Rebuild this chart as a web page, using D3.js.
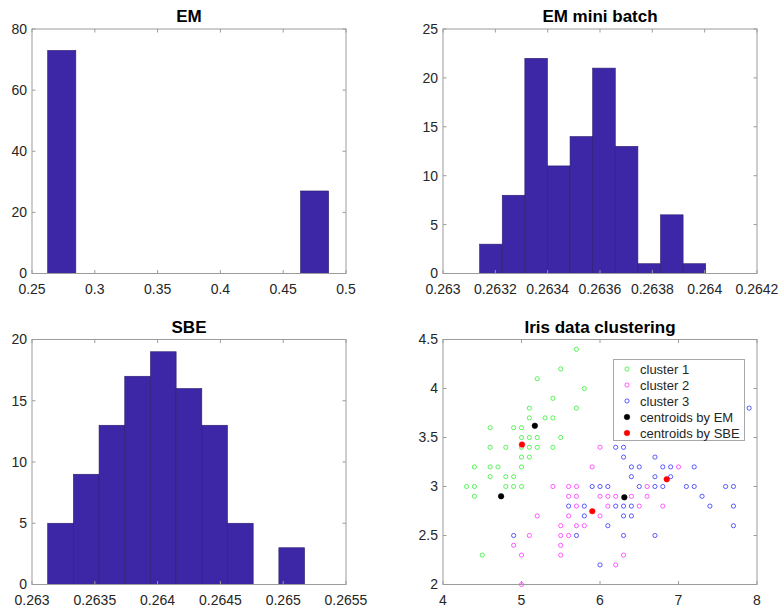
<!DOCTYPE html>
<html>
<head>
<meta charset="utf-8">
<script src="https://cdn.jsdelivr.net/npm/d3@7"></script>
<style>
  body { margin: 0; background: #fff; }
  svg { display: block; font-family: Helvetica, "Liberation Sans", Arial, sans-serif; }
</style>
</head>
<body>
<svg id="fig" width="779" height="612"></svg>
<script>
// histogram data (bin edges + counts)
const emEdges = [0.2625, 0.2849, 0.3072, 0.3296, 0.3520, 0.3744, 0.3967, 0.4191, 0.4415, 0.4638, 0.4862];
const emCounts = [73, 0, 0, 0, 0, 0, 0, 0, 0, 27];
const emXTicks = [0.25, 0.3, 0.35, 0.4, 0.45, 0.5];
const emXLabels = ["0.25", "0.3", "0.35", "0.4", "0.45", "0.5"];
const emYTicks = [0, 20, 40, 60, 80];

const miniEdges = [0.2631400, 0.2632264, 0.2633128, 0.2633992, 0.2634856, 0.2635720,
                   0.2636584, 0.2637448, 0.2638312, 0.2639176, 0.2640040];
const miniCounts = [3, 8, 22, 11, 14, 21, 13, 1, 6, 1];
const miniXTicks = [0.263, 0.2632, 0.2634, 0.2636, 0.2638, 0.264, 0.2642];
const miniXLabels = ["0.263", "0.2632", "0.2634", "0.2636", "0.2638", "0.264", "0.2642"];
const miniYTicks = [0, 5, 10, 15, 20, 25];

const sbeEdges = [0.263125, 0.2633295, 0.263534, 0.2637385, 0.263943, 0.2641475,
                  0.264352, 0.2645565, 0.264761, 0.2649655, 0.26517];
const sbeCounts = [5, 9, 13, 17, 19, 16, 13, 5, 0, 3];
const sbeXTicks = [0.263, 0.2635, 0.264, 0.2645, 0.265, 0.2655];
const sbeXLabels = ["0.263", "0.2635", "0.264", "0.2645", "0.265", "0.2655"];
const sbeYTicks = [0, 5, 10, 15, 20];

// iris scatter (sepal length, sepal width)
const cluster1 = [
  [5.7,4.4],[5.5,4.2],[5.2,4.1],[5.8,4.0],[5.4,3.9],[5.1,3.8],[5.7,3.8],[5.1,3.7],[5.3,3.7],[5.4,3.7],
  [4.6,3.6],[4.9,3.6],[5.0,3.6],[5.0,3.5],[5.1,3.5],[5.2,3.5],[5.5,3.5],
  [4.6,3.4],[4.8,3.4],[5.0,3.4],[5.1,3.4],[5.2,3.4],[5.4,3.4],[5.0,3.3],[5.1,3.3],
  [4.4,3.2],[4.6,3.2],[4.7,3.2],[5.0,3.2],[4.6,3.1],[4.8,3.1],[4.9,3.1],
  [4.3,3.0],[4.4,3.0],[4.8,3.0],[4.9,3.0],[5.0,3.0],[4.4,2.9],[4.5,2.3]
];
const cluster2 = [
  [6.0,3.4],[5.9,3.2],[7.0,3.2],[5.4,3.0],[5.6,3.0],[5.7,3.0],[6.6,3.0],
  [5.6,2.9],[5.7,2.9],[6.0,2.9],[6.1,2.9],[6.2,2.9],[6.4,2.9],[6.6,2.9],
  [5.7,2.8],[6.1,2.8],[6.5,2.8],[6.8,2.8],[5.2,2.7],[5.6,2.7],[6.0,2.7],
  [5.5,2.6],[5.7,2.6],[5.8,2.6],[5.1,2.5],[5.5,2.5],[5.6,2.5],[4.9,2.4],[5.5,2.4],
  [5.0,2.3],[5.5,2.3],[6.3,2.3],[6.2,2.2],[5.0,2.0]
];
const cluster3 = [
  [7.9,3.8],[6.2,3.4],[6.3,3.4],[6.3,3.3],[6.7,3.3],
  [6.4,3.2],[6.5,3.2],[6.8,3.2],[6.9,3.2],[7.2,3.2],[6.4,3.1],[6.7,3.1],[6.9,3.1],
  [5.9,3.0],[6.0,3.0],[6.1,3.0],[6.5,3.0],[6.7,3.0],[6.8,3.0],[7.1,3.0],[7.2,3.0],[7.6,3.0],[7.7,3.0],
  [7.3,2.9],[5.6,2.8],[5.8,2.8],[6.2,2.8],[6.3,2.8],[6.4,2.8],[7.4,2.8],[7.7,2.8],
  [5.8,2.7],[6.3,2.7],[6.4,2.7],[6.1,2.6],[7.7,2.6],
  [4.9,2.5],[5.7,2.5],[6.3,2.5],[6.7,2.5],[6.0,2.2]
];
const centroidsEM = [[5.17,3.62],[4.74,2.90],[6.31,2.89]];
const centroidsSBE = [[5.006,3.428],[5.902,2.748],[6.850,3.074]];
const scatterXTicks = [4, 5, 6, 7, 8];
const scatterXLabels = ["4", "5", "6", "7", "8"];
const scatterYTicks = [2, 2.5, 3, 3.5, 4, 4.5];
const scatterYLabels = ["2", "2.5", "3", "3.5", "4", "4.5"];
const legendLabels = ["cluster 1", "cluster 2", "cluster 3", "centroids by EM", "centroids by SBE"];

const svg = d3.select("#fig");
const axisColor = "#9c9c9c";
const textColor = "#262626";
const barFill = "#3d27a6";
const tickLen = 3.5;

const cols = [[32, 346], [443, 757]];
const rows = [[29, 273.5], [339.5, 584.5]];

function makeAxes(col, row, xDomain, yDomain, xTicks, xLabels, yTicks, yLabels, title) {
  const x = d3.scaleLinear().domain(xDomain).range(col);
  const y = d3.scaleLinear().domain(yDomain).range([row[1], row[0]]);
  const g = svg.append("g");
  const front = svg.append("g"); // drawn later, on top

  // tick labels
  g.selectAll(".xl").data(xTicks).enter().append("text")
    .attr("x", d => x(d)).attr("y", row[1] + 20)
    .attr("text-anchor", "middle")
    .attr("font-size", 14).attr("fill", textColor)
    .text((d, i) => xLabels[i]);
  g.selectAll(".yl").data(yTicks).enter().append("text")
    .attr("x", col[0] - 5).attr("y", d => y(d))
    .attr("dy", "0.35em")
    .attr("text-anchor", "end")
    .attr("font-size", 14).attr("fill", textColor)
    .text((d, i) => yLabels[i]);

  g.append("text")
    .attr("x", (col[0] + col[1]) / 2).attr("y", row[0] - 7)
    .attr("text-anchor", "middle")
    .attr("font-size", 17).attr("font-weight", "bold").attr("fill", "#000")
    .text(title);

  return { x, y, g, front, col, row, xTicks, yTicks };
}

function drawFrame(ax) {
  const { x, y, front, col, row, xTicks, yTicks } = ax;
  const ticks = front.append("g").attr("stroke", axisColor).attr("stroke-width", 1);
  xTicks.forEach(t => {
    ticks.append("line").attr("x1", x(t)).attr("x2", x(t)).attr("y1", row[1]).attr("y2", row[1] - tickLen);
    ticks.append("line").attr("x1", x(t)).attr("x2", x(t)).attr("y1", row[0]).attr("y2", row[0] + tickLen);
  });
  yTicks.forEach(t => {
    ticks.append("line").attr("x1", col[0]).attr("x2", col[0] + tickLen).attr("y1", y(t)).attr("y2", y(t));
    ticks.append("line").attr("x1", col[1]).attr("x2", col[1] - tickLen).attr("y1", y(t)).attr("y2", y(t));
  });
  front.append("rect")
    .attr("x", col[0]).attr("y", row[0])
    .attr("width", col[1] - col[0]).attr("height", row[1] - row[0])
    .attr("fill", "none").attr("stroke", axisColor).attr("stroke-width", 1);
}

function histogram(col, row, edges, counts, xTicks, xLabels, yTicks, title) {
  const ax = makeAxes(col, row, [xTicks[0], xTicks[xTicks.length - 1]],
    [yTicks[0], yTicks[yTicks.length - 1]], xTicks, xLabels, yTicks, yTicks.map(String), title);
  ax.g.selectAll("rect.bar")
    .data(counts.map((c, i) => ({ c, x0: edges[i], x1: edges[i + 1] })).filter(d => d.c > 0))
    .enter().append("rect")
    .attr("class", "bar")
    .attr("x", d => ax.x(d.x0))
    .attr("width", d => ax.x(d.x1) - ax.x(d.x0))
    .attr("y", d => ax.y(d.c))
    .attr("height", d => ax.y(0) - ax.y(d.c))
    .attr("fill", barFill)
    .attr("stroke", "#2a1f6e")
    .attr("stroke-width", 0.6);
  drawFrame(ax);
}

histogram(cols[0], rows[0], emEdges, emCounts, emXTicks, emXLabels, emYTicks, "EM");
histogram(cols[1], rows[0], miniEdges, miniCounts, miniXTicks, miniXLabels, miniYTicks, "EM mini batch");
histogram(cols[0], rows[1], sbeEdges, sbeCounts, sbeXTicks, sbeXLabels, sbeYTicks, "SBE");

// scatter panel
const sc = makeAxes(cols[1], rows[1], [4, 8], [2, 4.5], scatterXTicks, scatterXLabels,
  scatterYTicks, scatterYLabels, "Iris data clustering");

const series = [
  { data: cluster1, color: "#00ee00", filled: false },
  { data: cluster2, color: "#ff00ff", filled: false },
  { data: cluster3, color: "#0000ff", filled: false },
  { data: centroidsEM, color: "#000000", filled: true },
  { data: centroidsSBE, color: "#ff0000", filled: true }
];

series.forEach(s => {
  sc.g.selectAll(null).data(s.data).enter().append("circle")
    .attr("cx", d => sc.x(d[0]))
    .attr("cy", d => sc.y(d[1]))
    .attr("r", s.filled ? 2.8 : 2.1)
    .attr("fill", s.filled ? s.color : "none")
    .attr("stroke", s.color)
    .attr("stroke-opacity", s.filled ? 1 : 0.7)
    .attr("stroke-width", s.filled ? 0.5 : 0.9);
});
drawFrame(sc);

// legend
const lg = svg.append("g").attr("transform", "translate(613.5,359.5)");
lg.append("rect").attr("width", 131).attr("height", 81)
  .attr("fill", "#fff").attr("stroke", "#a8a8a8").attr("stroke-width", 1);
legendLabels.forEach((label, i) => {
  const s = series[i];
  const yy = 9.5 + i * 16;
  lg.append("circle")
    .attr("cx", 13.5).attr("cy", yy)
    .attr("r", s.filled ? 2.8 : 2.1)
    .attr("fill", s.filled ? s.color : "none")
    .attr("stroke", s.color)
    .attr("stroke-opacity", s.filled ? 1 : 0.7)
    .attr("stroke-width", s.filled ? 0.5 : 0.9);
  lg.append("text")
    .attr("x", 26.5).attr("y", yy).attr("dy", "0.35em")
    .attr("font-size", 13).attr("fill", textColor)
    .text(label);
});
</script>
</body>
</html>
